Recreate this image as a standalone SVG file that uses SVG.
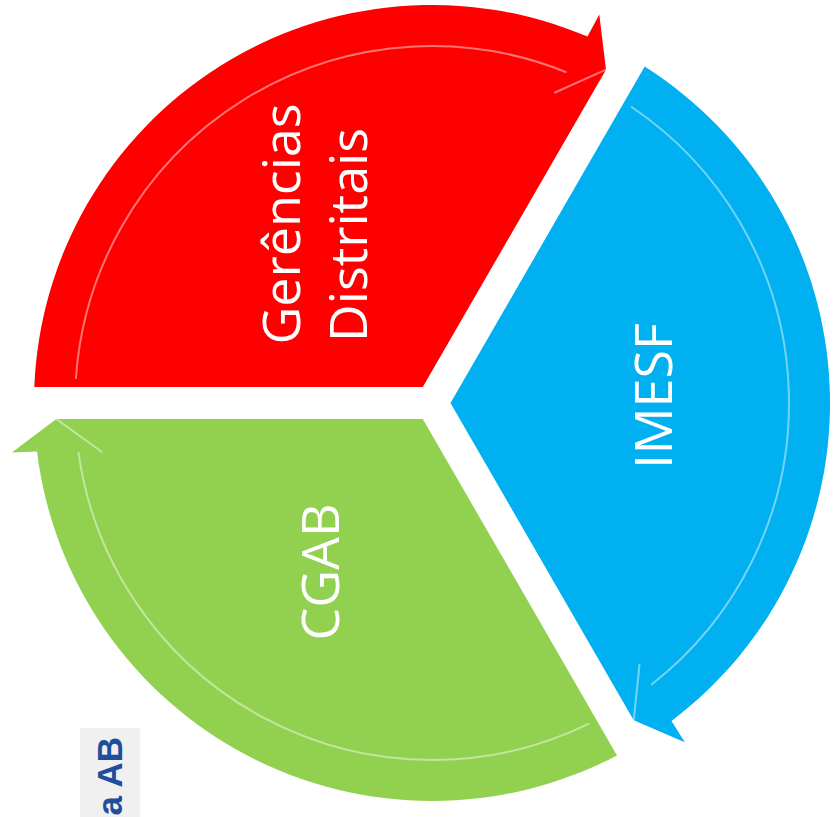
<svg xmlns="http://www.w3.org/2000/svg" width="834" height="817" viewBox="0 0 834 817">
<style>
.lbl{font-family:"Open Sans","Liberation Sans",sans-serif;font-size:52px;fill:#ffffff;text-anchor:middle}
.hl{fill:none;stroke:#ffffff;stroke-width:2;stroke-opacity:0.45;stroke-linecap:round}
.rim{fill:none;stroke:#ffffff;stroke-width:1.5;stroke-opacity:0.2}
.side{font-family:"Liberation Sans",Arial,sans-serif;font-weight:bold;font-size:35px;fill:#1F4E9C;text-anchor:end}
</style>
<rect width="834" height="817" fill="#ffffff"/>
<g id="node-gerencias">
<path d="M34.3,387 A398,398 0 0 1 587.5,36.6 L599.3,14.5 L606,69.7 L422.8,387 Z" fill="#FF0000"/>
<path class="hl" d="M75.9,378.1 A357,357 0 0 1 565.7,72"/>
<path class="hl" d="M606,69.7 L555,92.5"/>
<text class="lbl" transform="translate(300,224) rotate(-90)">Gerências</text>
<text class="lbl" transform="translate(367,235) rotate(-90)">Distritais</text>
</g>
<g id="node-imesf">
<path d="M644.7,66.6 A398,398 0 0 1 671.5,720.9 L684.8,742.2 L633.7,720.3 L450.5,403 Z" fill="#00B0F0"/>
<path class="hl" d="M631.6,107 A357,357 0 0 1 651.8,684.3"/>
<path class="hl" d="M633.7,720.3 L639.5,664.8"/>
<text class="lbl" transform="translate(672,396) rotate(-90)">IMESF</text>
</g>
<g id="node-cgab">
<path d="M617,755.4 A398,398 0 0 1 37,451.5 L11.9,452.4 L56.3,419 L422.8,419 Z" fill="#92D050"/>
<path class="hl" d="M588.5,723.9 A357,357 0 0 1 78.5,452.7"/>
<path class="hl" d="M56.3,419 L101.6,451.8"/>
<text class="lbl" transform="translate(339,572) rotate(-90)">CGAB</text>
</g>
<g id="connectors"></g>
<g id="side-label">
<rect x="80" y="728" width="60" height="89" fill="#F0F0F0"/>
<text class="side" transform="translate(122,737) rotate(-90)">a AB</text>
</g>
</svg>
